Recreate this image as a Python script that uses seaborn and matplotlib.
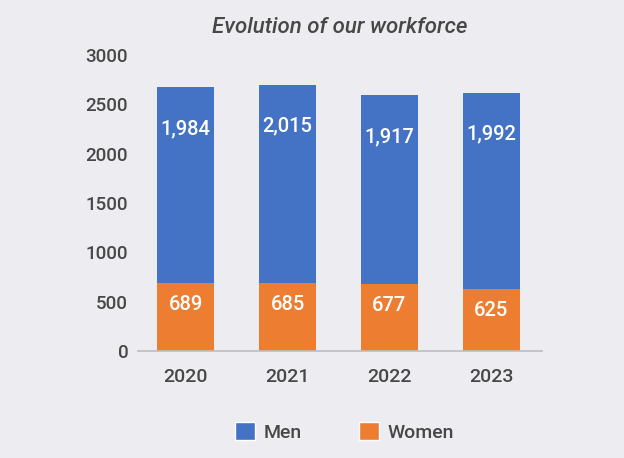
import matplotlib
matplotlib.use("Agg")
import matplotlib.pyplot as plt
import seaborn as sns
import pandas as pd
from matplotlib.patches import Patch

years = ["2020", "2021", "2022", "2023"]
men = [1984, 2015, 1917, 1992]
women = [689, 685, 677, 625]
yticks = [0, 500, 1000, 1500, 2000, 2500, 3000]

BG = "#EDEDF1"
BLUE = "#4472C4"
ORANGE = "#ED7D31"
TXT = "#474747"

sns.set_theme(style="white")
plt.rcParams['font.family'] = ['Roboto', 'DejaVu Sans']
plt.rcParams['font.weight'] = 'medium'

df = pd.DataFrame({"year": years, "men": men, "women": women})
df["total"] = df["men"] + df["women"]

fig = plt.figure(figsize=(6.24, 4.58), dpi=100, facecolor=BG)
ax = fig.add_axes([0.221, 0.2336, 0.648, 0.646])
ax.set_facecolor(BG)

sns.barplot(data=df, x="year", y="total", color=BLUE, width=0.56, ax=ax,
            saturation=1, linewidth=0)
sns.barplot(data=df, x="year", y="women", color=ORANGE, width=0.56, ax=ax,
            saturation=1, linewidth=0)

for i, (m, w) in enumerate(zip(men, women)):
    ax.text(i, m + w - 420, f"{m:,}", ha="center", va="center",
            color="white", fontsize=14.5, fontweight="medium")
    ax.text(i, w - 215, f"{w:,}", ha="center", va="center",
            color="white", fontsize=14.5, fontweight="medium")

ax.set_xlim(-0.47, 3.5)
ax.set_ylim(0, 3000)
ax.set_yticks(yticks)
ax.set_yticklabels([str(t) for t in yticks], fontweight="medium")
ax.set_xticklabels(years, fontweight="medium")
ax.set_xlabel("")
ax.set_ylabel("")
for s in ["top", "right", "left"]:
    ax.spines[s].set_visible(False)
ax.spines["bottom"].set_color("#BDBDC2")
ax.spines["bottom"].set_linewidth(1.2)
ax.tick_params(axis="y", length=0, pad=7, labelsize=13.5, labelcolor=TXT)
ax.tick_params(axis="x", length=0, pad=12, labelsize=14, labelcolor=TXT)

ax.set_title("Evolution of our workforce", fontsize=16, style="italic",
             color=TXT, pad=16, fontweight="medium")

handles = [Patch(facecolor=BLUE, label="Men"), Patch(facecolor=ORANGE, label="Women")]
fig.legend(handles=handles, loc="center", bbox_to_anchor=(0.552, 0.057), ncol=2,
           frameon=False, fontsize=14, labelcolor=TXT, handlelength=1.05,
           handleheight=1.05, columnspacing=2.9, handletextpad=0.45,
           prop={"weight": "medium", "size": 14})

fig.savefig("out.png", dpi=100, facecolor=BG)
